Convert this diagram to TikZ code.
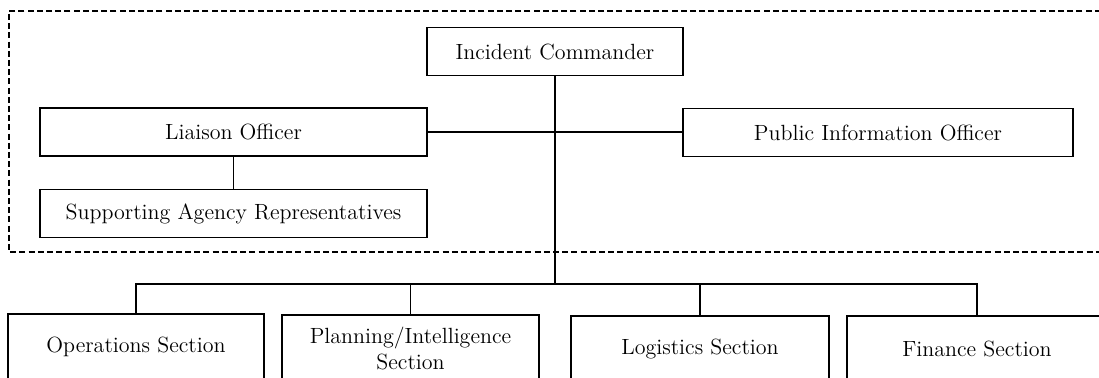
\documentclass[tikz,border=0pt]{standalone}
\usepackage{tikz}
\usetikzlibrary{positioning}

\begin{document}
\begin{tikzpicture}[x=0.5pt, y=-0.5pt, every node/.style={draw, rectangle, line width=0.8pt, inner sep=0pt, minimum height=24pt, align=center, font=\fontsize{11}{13}\selectfont}]
            \path[use as bounding box, clip] (0,0) rectangle (1099,378);
            % command staff
            \node[minimum width=128pt] (ic) at (555,51.5) {Incident Commander};
            \node[minimum width=193.5pt] (lo) at (233.5,132) {Liaison Officer};
            \node[below = 16pt of lo, minimum width=193.5pt] (sar) {Supporting Agency Representatives};
            \node[minimum width=195pt] (pio) at (878,132.5) {Public Information Officer};
            % general staff
            \node[minimum width=128pt, minimum height=33pt] (ops) at (136,347) {Operations Section};
            \node[minimum width=128.5pt, minimum height=33pt] (pln) at (410.5,348) {Planning/Intelligence\\Section};
            \node[minimum width=129pt, minimum height=33pt] (log) at (700,349) {Logistics Section};
            \node[minimum width=130pt, minimum height=33pt] (fin) at (977,349) {Finance Section};
            \draw[line width=0.8pt, dash pattern=on 3pt off 1.6pt] (1110,11) -- (9,11) -- (9,252) -- (1110,252);
            \coordinate (bar) at (555,284);
            \draw[line width=0.6pt] (lo.east) -- (lo.east -| pio.west);
            \draw[line width=0.6pt] (lo) -- (sar);
            \draw[line width=0.6pt] (ic.south) -- (bar);
            \draw[line width=0.6pt] (ops.north) -- (ops.north |- bar) -- (fin.north |- bar) -- (fin.north);
            \draw[line width=0.6pt] (pln.north) -- (pln.north |- bar);
            \draw[line width=0.6pt] (log.north) -- (log.north |- bar);
        \end{tikzpicture}
\end{document}
